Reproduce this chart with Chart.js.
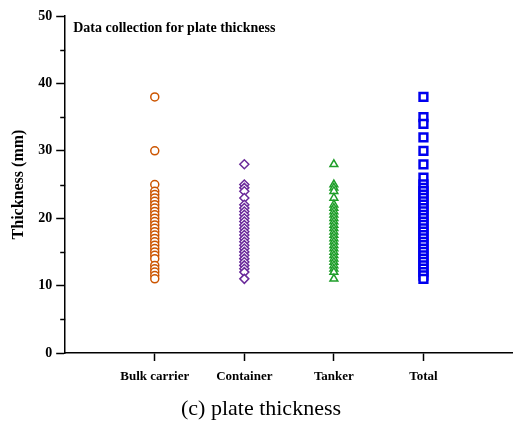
<!DOCTYPE html>
<html>
<head>
<meta charset="utf-8">
<script src="https://cdn.jsdelivr.net/npm/chart.js@4"></script>
<style>
  html, body { margin: 0; padding: 0; background: #fff; }
  #wrap { width: 513px; height: 429px; }
</style>
</head>
<body>
<div id="wrap"><canvas id="myChart" width="513" height="429"></canvas></div>
<script>
const ctx = document.getElementById('myChart')

const categories = ['Bulk carrier', 'Container', 'Tanker', 'Total']
const bulkCarrier = [38, 30, 25, 24, 23.5, 23, 22.5, 22, 21.5, 21, 20.5, 20, 19.5, 19, 18.5, 18, 17.5, 17, 16.5, 16, 15.5, 15, 14.5, 14, 13, 12.5, 12, 11.5, 11]
const container = [28, 25, 24.5, 24, 23, 22, 21.5, 21, 20.5, 20, 19.5, 19, 18.5, 18, 17.5, 17, 16.5, 16, 15.5, 15, 14.5, 14, 13.5, 13, 12.5, 12, 11]
const tanker = [28, 25, 24.5, 24, 23, 22, 21.5, 21, 20.5, 20, 19.5, 19, 18.5, 18, 17.5, 17, 16.5, 16, 15.5, 15, 14.5, 14, 13.5, 13, 12.5, 12, 11]
const total = [38, 35, 34, 32, 30, 28, 26, 25, 24.5, 24, 23.5, 23, 22.5, 22, 21.5, 21, 20.5, 20, 19.5, 19, 18.5, 18, 17.5, 17, 16.5, 16, 15.5, 15, 14.5, 14, 13.5, 13, 12.5, 12, 11.5, 11]
const yTicks = [0, 10, 20, 30, 40, 50]

// column index (1..4) on a linear x axis
const pts = (vals, i) => vals.map(v => ({x: i + 1, y: v}))

// minor ticks on y axis + inner title
const extras = {
    id: 'extras',
    afterDraw(chart) {
        const c = chart.ctx
        const y = chart.scales.y
        const a = chart.chartArea
        c.save()
        c.strokeStyle = '#000'
        c.lineWidth = 1.5
        for (let v = 5; v < 50; v += 10) {
            const py = Math.round(y.getPixelForValue(v)) + 0.5
            c.beginPath()
            c.moveTo(a.left - 5, py)
            c.lineTo(a.left, py)
            c.stroke()
        }
        c.fillStyle = '#000'
        c.font = 'bold 14px "Liberation Serif"'
        c.textBaseline = 'middle'
        c.fillText('Data collection for plate thickness', a.left + 8, a.top + 12)
        c.restore()
    }
}

const myChart = new Chart(ctx, {
    type: 'scatter',
    data: {
        datasets: [{
            label: categories[0],
            data: pts(bulkCarrier, 0),
            pointStyle: 'circle',
            pointRadius: 4,
            borderColor: '#cc5500',
            backgroundColor: '#fff',
            borderWidth: 1.5
        }, {
            label: categories[1],
            data: pts(container, 1),
            pointStyle: 'rectRot',
            pointRadius: 4.5,
            borderColor: '#6a2a9a',
            backgroundColor: '#fff',
            borderWidth: 1.5
        }, {
            label: categories[2],
            data: pts(tanker, 2),
            pointStyle: 'triangle',
            pointRadius: 4.5,
            borderColor: '#1f9e2a',
            backgroundColor: '#fff',
            borderWidth: 1.5
        }, {
            label: categories[3],
            data: pts(total, 3),
            pointStyle: 'rect',
            pointRadius: 5.5,
            borderColor: '#0000ee',
            backgroundColor: '#fff',
            borderWidth: 2.5
        }]
    },
    options: {
        responsive: false,
        animation: false,
        layout: {autoPadding: false, padding: {top: 16, right: 0, left: 9}},
        plugins: {
            legend: {display: false},
            tooltip: {enabled: false},
            title: {
                display: true,
                position: 'bottom',
                text: '(c) plate thickness',
                color: '#000',
                font: {family: '"Liberation Serif"', size: 22, weight: 'normal'},
                padding: {top: 3, bottom: 7}
            }
        },
        scales: {
            x: {
                type: 'linear',
                min: 0,
                max: 5,
                afterBuildTicks: s => { s.ticks = categories.map((c, i) => ({value: i + 1})) },
                afterFit: s => { s.paddingLeft = 0; s.paddingRight = 0 },
                ticks: {
                    callback: v => categories[v - 1] || '',
                    color: '#000',
                    font: {family: '"Liberation Serif"', size: 13, weight: 'bold'},
                    padding: 8,
                    maxRotation: 0
                },
                grid: {drawOnChartArea: false, tickLength: 8, tickWidth: 1.5, tickColor: '#000'},
                border: {color: '#000', width: 1.5}
            },
            y: {
                min: 0,
                max: 50,
                afterBuildTicks: s => { s.ticks = yTicks.map(v => ({value: v})) },
                ticks: {
                    color: '#000',
                    font: {family: '"Liberation Serif"', size: 14, weight: 'bold'},
                    padding: 4
                },
                grid: {drawOnChartArea: false, tickLength: 9, tickWidth: 1.5, tickColor: '#000'},
                border: {color: '#000', width: 1.5},
                title: {
                    display: true,
                    text: 'Thickness (mm)',
                    color: '#000',
                    font: {family: '"Liberation Serif"', size: 16, weight: 'bold'},
                    padding: {top: 0, bottom: 6}
                }
            }
        }
    },
    plugins: [extras]
});
</script>
</body>
</html>
